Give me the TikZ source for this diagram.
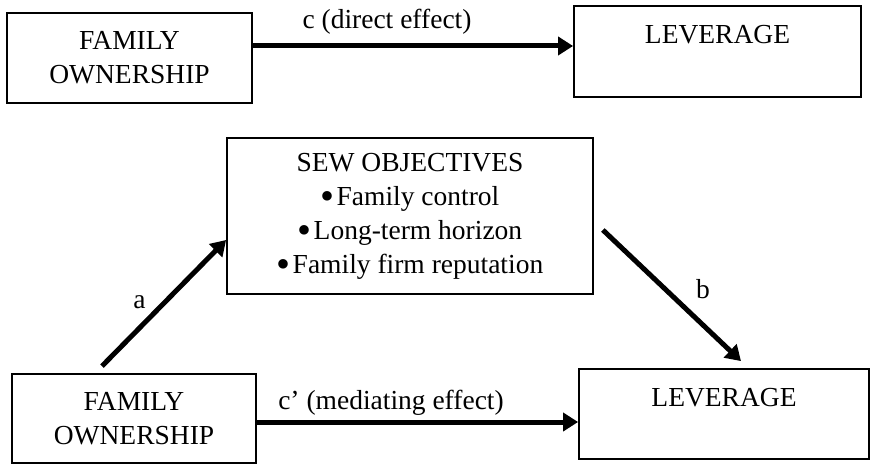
\documentclass[tikz,border=0pt]{standalone}
\usepackage{fontspec}
\usepackage{graphicx}
\setmainfont{Liberation Serif}
\usetikzlibrary{arrows.meta}
\newcommand{\bulletitem}{\raisebox{-4pt}{\scalebox{1.45}{\textbullet}}\hspace{2pt}}
\begin{document}
\begin{tikzpicture}[x=1pt,y=-1pt,
  every node/.style={font=\fontsize{27.5}{34}\selectfont},
  box/.style={draw, line width=1.8pt, align=center, inner sep=0pt},
  arr/.style={line width=5pt, -{Triangle[length=15pt,width=18pt]}},
  lbl/.style={inner sep=0pt}]
\useasboundingbox (0,0) rectangle (870,465);
\node[box, minimum width=245pt, minimum height=90pt] (fo1) at (129.5,58) {FAMILY\\OWNERSHIP};
\node[box, minimum width=287pt, minimum height=91pt] (lev1) at (717.5,51.5) {LEVERAGE\\\mbox{}};
\node[box, minimum width=366pt, minimum height=156pt] (sew) at (410,216)
  {SEW OBJECTIVES\\\bulletitem Family control\\\bulletitem Long-term horizon\\\bulletitem Family firm reputation};
\node[box, minimum width=244pt, minimum height=89pt] (fo2) at (134,418.5) {FAMILY\\OWNERSHIP};
\node[box, minimum width=290pt, minimum height=90pt] (lev2) at (724,414) {LEVERAGE\\\mbox{}};
\coordinate (cs) at ([yshift=12pt]fo1.east);
\draw[arr] (cs) -- (cs -| lev1.west);
\coordinate (cps) at ([yshift=-3.5pt]fo2.east);
\draw[arr] (cps) -- (cps -| lev2.west);
\coordinate (as) at ([xshift=-32pt,yshift=7pt]fo2.north);
\coordinate (ae) at ([yshift=-24pt]sew.west);
\draw[arr] (as) -- (ae);
\coordinate (bs) at ([xshift=9pt,yshift=-14pt]sew.east);
\coordinate (be) at ([xshift=17pt,yshift=7pt]lev2.north);
\draw[arr] (bs) -- (be);
\node[lbl, anchor=base] (lc) at (387,29) {c (direct effect)};
\node[lbl, anchor=base] (lcp) at (391,409) {c’ (mediating effect)};
\node[lbl] (la) at (139.5,302) {a};
\node[lbl] (lb) at (703,289) {b};
\end{tikzpicture}
\end{document}
